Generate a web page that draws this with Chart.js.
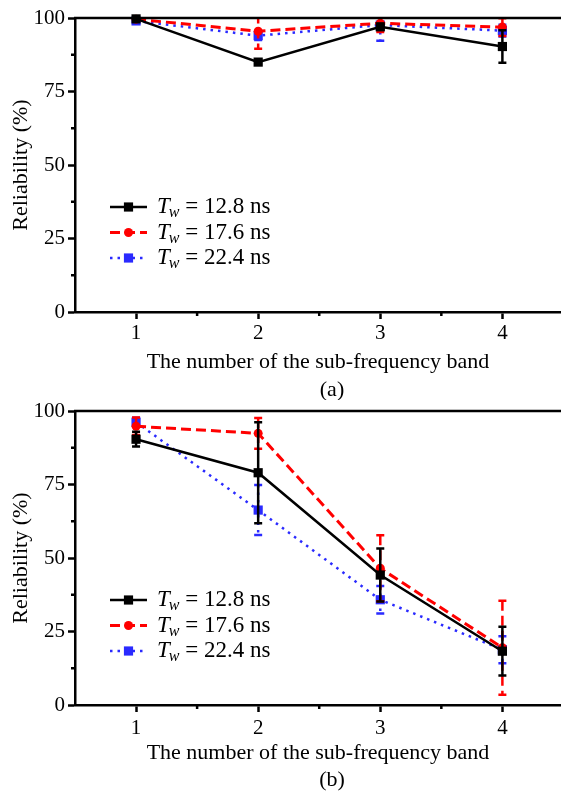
<!DOCTYPE html>
<html>
<head>
<meta charset="utf-8">
<script src="https://cdn.jsdelivr.net/npm/chart.js@4"></script>
<style>
  body { margin: 0; background: #fff; overflow: hidden; }
  canvas { display: block; }
</style>
</head>
<body>
<canvas id="chart-a" width="561" height="400"></canvas>
<canvas id="chart-b" width="561" height="393"></canvas>
<script>
// shared axes
const bands = [1, 2, 3, 4];
const yTicks = [0, 25, 50, 75, 100];
const yMinor = [12.5, 37.5, 62.5, 87.5];
const xMinor = [1.5, 2.5, 3.5];
const twValues = ['12.8', '17.6', '22.4'];

// panel (a)
const a128 = [99.7, 85.0, 97.0, 90.3];
const a128Err = [0.5, 0.8, 1.0, 5.5];
const a176 = [99.6, 95.5, 98.2, 96.9];
const a176Err = [0.5, 6.0, 3.0, 3.0];
const a224 = [99.0, 94.0, 97.6, 95.7];
const a224Err = [0.6, 1.5, 5.3, 2.0];

// panel (b)
const b128 = [90.4, 79.0, 44.2, 18.3];
const b128Err = [2.5, 17.2, 9.0, 8.3];
const b176 = [94.8, 92.4, 46.5, 19.5];
const b176Err = [3.0, 5.2, 11.2, 16.0];
const b224 = [96.2, 66.3, 35.8, 18.8];
const b224Err = [1.5, 8.5, 4.7, 4.6];

const SERIF = '"Liberation Serif", "Times New Roman", serif';
const RED = '#ff0000';
const BLUE = '#2a2aff';

// error bars, drawn under each dataset's own line
const errorBars = {
  id: 'errorBars',
  beforeDatasetDraw(chart, args) {
    const ds = chart.data.datasets[args.index];
    if (!ds.errors) return;
    const ctx = chart.ctx, y = chart.scales.y, area = chart.chartArea;
    ctx.save();
    ctx.beginPath();
    ctx.rect(area.left - 20, area.top, area.right - area.left + 40, area.bottom - area.top + 20);
    ctx.clip();
    ctx.strokeStyle = ds.borderColor;
    ctx.lineWidth = 2.5;
    args.meta.data.forEach((pt, i) => {
      const v = ds.data[i].y, e = ds.errors[i];
      const top = y.getPixelForValue(v + e), bot = y.getPixelForValue(v - e);
      ctx.setLineDash(ds.borderDash || []);
      ctx.beginPath();
      ctx.moveTo(pt.x, top);
      ctx.lineTo(pt.x, bot);
      ctx.stroke();
      ctx.setLineDash([]);
      ctx.beginPath();
      ctx.moveTo(pt.x - 4, top); ctx.lineTo(pt.x + 4, top);
      ctx.moveTo(pt.x - 4, bot); ctx.lineTo(pt.x + 4, bot);
      ctx.stroke();
    });
    ctx.restore();
  }
};

// top frame line, minor ticks, legend, panel tag
const decorations = {
  id: 'decorations',
  afterDraw(chart, args, opts) {
    const ctx = chart.ctx, area = chart.chartArea;
    const xs = chart.scales.x, ys = chart.scales.y;
    ctx.save();
    ctx.strokeStyle = '#000';
    ctx.lineWidth = 2.5;
    ctx.beginPath();
    ctx.moveTo(area.left - 1, area.top);
    ctx.lineTo(chart.width, area.top);
    ctx.stroke();
    ctx.beginPath();
    yMinor.forEach(v => {
      const p = ys.getPixelForValue(v);
      ctx.moveTo(area.left - 4, p); ctx.lineTo(area.left, p);
    });
    xMinor.forEach(v => {
      const p = xs.getPixelForValue(v);
      ctx.moveTo(p, area.bottom); ctx.lineTo(p, area.bottom + 4);
    });
    ctx.stroke();

    // legend
    chart.data.datasets.forEach((ds, i) => {
      const ly = area.top + 189 + i * 25.5;
      ctx.strokeStyle = ds.borderColor;
      ctx.lineWidth = ds.borderWidth;
      ctx.setLineDash(ds.borderDash || []);
      ctx.beginPath();
      ctx.moveTo(110, ly); ctx.lineTo(147, ly);
      ctx.stroke();
      ctx.setLineDash([]);
      ctx.fillStyle = ds.pointBackgroundColor;
      ctx.beginPath();
      if (ds.pointStyle === 'circle') {
        ctx.arc(128.5, ly, ds.pointRadius, 0, Math.PI * 2);
      } else {
        const s = ds.pointRadius * Math.SQRT1_2;
        ctx.rect(128.5 - s, ly - s, 2 * s, 2 * s);
      }
      ctx.fill();

      ctx.fillStyle = '#000';
      ctx.textBaseline = 'middle';
      let tx = 157;
      ctx.font = 'italic 23px ' + SERIF;
      ctx.fillText('T', tx, ly);
      tx += ctx.measureText('T').width - 1;
      ctx.font = 'italic 16px ' + SERIF;
      ctx.fillText('w', tx, ly + 6);
      tx += ctx.measureText('w').width;
      ctx.font = '23px ' + SERIF;
      ctx.fillText(' = ' + twValues[i] + ' ns', tx, ly);
    });

    // panel tag
    ctx.fillStyle = '#000';
    ctx.font = '22px ' + SERIF;
    ctx.textAlign = 'center';
    ctx.textBaseline = 'middle';
    ctx.fillText(opts.tag, 332, area.bottom + opts.tagOffset);
    ctx.restore();
  }
};

function points(vals) {
  return bands.map((b, i) => ({ x: b, y: vals[i] }));
}

function makeChart(id, tag, lay, s128, e128, s176, e176, s224, e224) {
  const datasets = [
    {
      label: 'Tw = 12.8 ns', data: points(s128), errors: e128,
      borderColor: '#000', backgroundColor: '#000', borderWidth: 2.5,
      pointStyle: 'rect', pointRadius: 6.5, pointBackgroundColor: '#000', pointBorderWidth: 0
    },
    {
      label: 'Tw = 17.6 ns', data: points(s176), errors: e176,
      borderColor: RED, backgroundColor: RED, borderWidth: 3, borderDash: [10, 5],
      pointStyle: 'circle', pointRadius: 4.5, pointBackgroundColor: RED, pointBorderWidth: 0
    },
    {
      label: 'Tw = 22.4 ns', data: points(s224), errors: e224,
      borderColor: BLUE, backgroundColor: BLUE, borderWidth: 2.5, borderDash: [2.5, 5],
      pointStyle: 'rect', pointRadius: 6.5, pointBackgroundColor: BLUE, pointBorderWidth: 0
    }
  ];
  return new Chart(document.getElementById(id), {
    type: 'line',
    data: { datasets },
    options: {
      responsive: false,
      animation: false,
      clip: false,
      layout: { autoPadding: false, padding: { top: lay.top, right: 0, left: 0, bottom: 0 } },
      scales: {
        x: {
          type: 'linear', min: 0.5, max: 4.48,
          afterFit: s => { s.height = lay.xHeight; s.paddingRight = 0; s.paddingLeft = 0; },
          afterBuildTicks: s => { s.ticks = bands.map(v => ({ value: v })); },
          border: { display: true, color: '#000', width: 2.5 },
          grid: { drawOnChartArea: false, tickLength: 7, tickWidth: 2.5, tickColor: '#000' },
          ticks: { color: '#000', padding: lay.tickPad, font: { family: SERIF, size: 21 } },
          title: {
            display: true, text: 'The number of the sub-frequency band', color: '#000',
            font: { family: SERIF, size: 22 }, padding: { top: 0, bottom: lay.titlePad }
          }
        },
        y: {
          min: 0, max: 100,
          afterFit: s => { s.width = 75; s.paddingTop = 0; s.paddingBottom = 0; },
          afterBuildTicks: s => { s.ticks = yTicks.map(v => ({ value: v })); },
          border: { display: true, color: '#000', width: 2.5 },
          grid: { drawOnChartArea: false, tickLength: 7, tickWidth: 2.5, tickColor: '#000' },
          ticks: { color: '#000', padding: 3, font: { family: SERIF, size: 21 } },
          title: {
            display: true, text: 'Reliability (%)', color: '#000',
            font: { family: SERIF, size: 22 }, padding: { top: 8, bottom: 0 }
          }
        }
      },
      plugins: {
        legend: { display: false },
        tooltip: { enabled: false },
        decorations: { tag: tag, tagOffset: lay.tagOffset }
      }
    },
    plugins: [errorBars, decorations]
  });
}

makeChart('chart-a', '(a)', { top: 18, xHeight: 88, tickPad: 2, titlePad: 25, tagOffset: 78.5 },
  a128, a128Err, a176, a176Err, a224, a224Err);
makeChart('chart-b', '(b)', { top: 11, xHeight: 88, tickPad: 4, titlePad: 27, tagOffset: 75.5 },
  b128, b128Err, b176, b176Err, b224, b224Err);
</script>
</body>
</html>
